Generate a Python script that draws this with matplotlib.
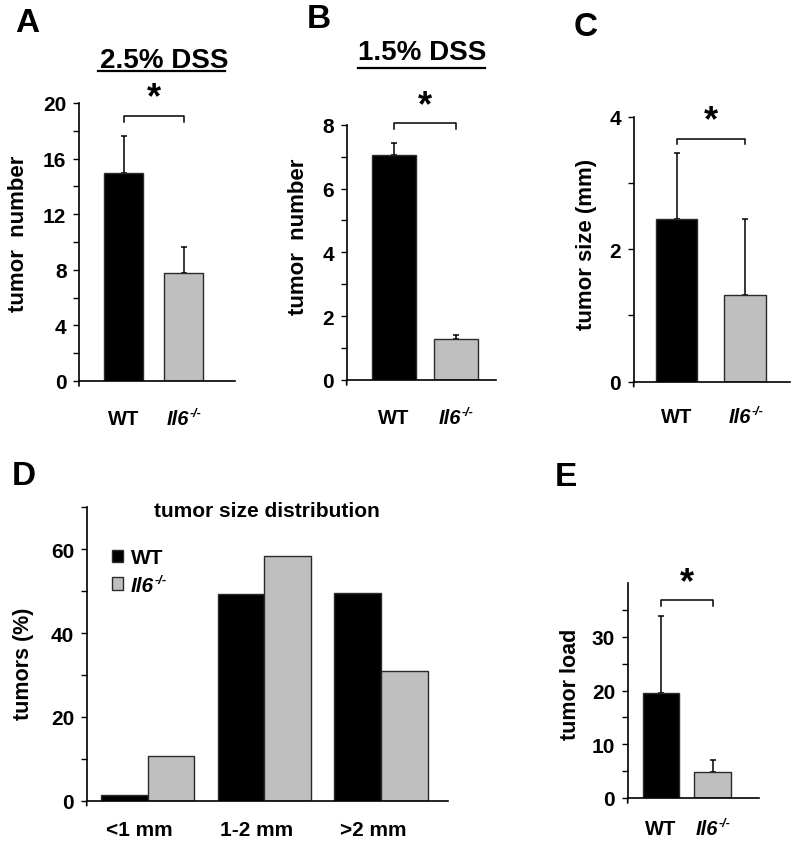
import matplotlib
matplotlib.use("Agg")
import matplotlib.pyplot as plt
import matplotlib.transforms as mtransforms
import numpy as np
from matplotlib.ticker import MultipleLocator

plt.rcParams['font.family'] = ['Liberation Sans', 'DejaVu Sans']
plt.rcParams['font.weight'] = 'bold'

# ---------------- data ----------------
groups = ['WT', 'Il6']
ko_sup = '-/-'

a_values = [15.0, 7.8]
a_err = [2.65, 1.85]

b_values = [7.05, 1.3]
b_err = [0.38, 0.1]

c_values = [2.45, 1.31]
c_err = [1.0, 1.15]

d_categories = ['<1 mm', '1-2 mm', '>2 mm']
d_wt = [1.3, 49.2, 49.5]
d_il6 = [10.7, 58.3, 31.0]

e_values = [19.6, 4.8]
e_err = [14.3, 2.3]

BLACK = '#000000'
GRAY = '#bfbfbf'
EDGE = '#2a2a2a'

W, H = 800, 845
fig = plt.figure(figsize=(W / 100, H / 100), dpi=100)


def add_ax(x0, y0, x1, y1):
    return fig.add_axes([x0 / W, 1 - y1 / H, (x1 - x0) / W, (y1 - y0) / H])


def style(ax, lw=1.2):
    for s in ['top', 'right']:
        ax.spines[s].set_visible(False)
    for s in ['left', 'bottom']:
        ax.spines[s].set_linewidth(lw)
    ax.tick_params(axis='y', which='both', direction='out', length=4,
                   width=1.0, labelsize=15, pad=5)
    ax.tick_params(axis='x', which='both', length=0, labelsize=15)
    # small downward extension of the y axis line below the x axis
    ext = mtransforms.offset_copy(ax.transAxes, fig=fig, x=0, y=-5, units='dots')
    ax.plot([0, 0], [0, 0], transform=ax.transAxes, lw=0)
    ax.add_line(plt.Line2D([0, 0], [0, 0], transform=ax.transAxes,
                           color='black', lw=lw, clip_on=False))
    ax.add_line(plt.Line2D([0, 0], [0, 0], transform=ext,
                           color='black', lw=lw, clip_on=False))
    ax.annotate('', xy=(0, 0), xycoords='axes fraction', xytext=(0, -5),
                textcoords='offset pixels',
                arrowprops=dict(arrowstyle='-', lw=lw, color='black',
                                shrinkA=0, shrinkB=0))


def add_ko_label(ax, text_artist_anchor, size):
    """superscript -/- right after an italic 'Il6' text artist"""
    ax.annotate(ko_sup, xy=(1, 1), xycoords=text_artist_anchor,
                xytext=(0.5, 1.5), textcoords='offset points',
                ha='left', va='top', fontsize=size * 0.62,
                fontweight='bold', style='italic', zorder=20)


def group_labels(ax, x, pad, size=14.5):
    trans = mtransforms.blended_transform_factory(ax.transData, ax.transAxes)
    ax.annotate(groups[0], xy=(x[0], 0), xycoords=trans, xytext=(0, -pad),
                textcoords='offset points', ha='center', va='top',
                fontsize=size, fontweight='bold')
    t = ax.annotate(groups[1], xy=(x[1], 0), xycoords=trans,
                    xytext=(-4, -pad), textcoords='offset points',
                    ha='center', va='top', fontsize=size, fontweight='bold',
                    style='italic')
    add_ko_label(ax, t, size)


def two_bar(ax, values, errs, width, xlim, ylim, major, minor, xpad,
            bracket_y, bracket_drop, ylabel, ylabel_size, ylabel_xy,
            star_size=26):
    x = np.arange(len(values))
    ax.bar(x, values, width=width, color=[BLACK, GRAY], edgecolor=EDGE,
           linewidth=1.0, zorder=2)
    ax.errorbar(x, values, yerr=[np.zeros(len(errs)), errs], fmt='none',
                ecolor='black', elinewidth=1.1, capsize=2.2, capthick=1.1,
                zorder=1)
    ax.set_xlim(*xlim)
    ax.set_ylim(*ylim)
    ax.yaxis.set_major_locator(MultipleLocator(major))
    ax.yaxis.set_minor_locator(MultipleLocator(minor))
    ax.set_xticks([])
    group_labels(ax, x, xpad)
    ax.set_ylabel(ylabel, fontsize=ylabel_size, fontweight='bold')
    ax.yaxis.set_label_coords(*ylabel_xy)
    style(ax)
    # significance bracket
    ax.plot([x[0], x[0], x[1], x[1]],
            [bracket_y - bracket_drop, bracket_y, bracket_y, bracket_y - bracket_drop],
            color='black', lw=1.1, clip_on=False)
    ax.text((x[0] + x[1]) / 2, bracket_y, '*', ha='center', va='bottom',
            fontsize=star_size, fontweight='bold')


# ---------------- Panel A ----------------
axA = add_ax(79, 104, 235, 382)
two_bar(axA, a_values, a_err, 0.65, (-0.742, 1.858), (0, 20), 4, 2, 20.5,
        19.1, 0.45, 'tumor  number', 16, (-0.32, 0.532))

# ---------------- Panel B ----------------
axB = add_ax(346.7, 125.7, 495.7, 381)
two_bar(axB, b_values, b_err, 0.71, (-0.758, 1.645), (0, 8), 2, 1, 20.5,
        8.05, 0.2, 'tumor  number', 16, (-0.253, 0.564))

# ---------------- Panel C ----------------
axC = add_ax(633.7, 117.7, 790, 382.7)
two_bar(axC, c_values, c_err, 0.606, (-0.628, 1.654), (0, 4), 2, 1, 18,
        3.67, 0.08, 'tumor size (mm)', 16, (-0.235, 0.523))

# ---------------- Panel E ----------------
axE = add_ax(627.7, 584, 759, 799)
two_bar(axE, e_values, e_err, 0.71, (-0.644, 1.896), (0, 40), 10, 5, 15,
        36.8, 1.1, 'tumor load', 15.5, (-0.358, 0.533))
axE.set_yticks([0, 10, 20, 30])
axE.set_yticks([5, 15, 25, 35], minor=True)

# ---------------- Panel D ----------------
axD = add_ax(86.7, 508.3, 448.3, 801.7)
xd = np.arange(len(d_categories))
bw = 0.4
axD.bar(xd - bw / 2, d_wt, width=bw, color=BLACK, edgecolor=EDGE,
        linewidth=1.0, label=groups[0])
axD.bar(xd + bw / 2, d_il6, width=bw, color=GRAY, edgecolor=EDGE,
        linewidth=1.0, label=groups[1])
axD.set_xlim(-0.523, 2.577)
axD.set_ylim(0, 70)
axD.yaxis.set_major_locator(MultipleLocator(20))
axD.yaxis.set_minor_locator(MultipleLocator(10))
axD.set_xticks(xd - 0.07)
axD.set_xticklabels(d_categories)
style(axD)
axD.tick_params(axis='x', pad=14, labelsize=15)
axD.set_ylabel('tumors (%)', fontsize=15.5, fontweight='bold')
axD.yaxis.set_label_coords(-0.146, 0.469)
axD.text(0.498, 0.988, 'tumor size distribution', transform=axD.transAxes,
         ha='center', va='center', fontsize=15, fontweight='bold')
leg = axD.legend(loc='upper left', bbox_to_anchor=(0.07, 0.86),
                 frameon=False, fontsize=15, handlelength=0.55,
                 handleheight=0.55, handletextpad=0.35, borderpad=0,
                 labelspacing=0.4, borderaxespad=0)
for t in leg.get_texts():
    t.set_fontweight('bold')
leg.get_texts()[1].set_style('italic')
add_ko_label(axD, leg.get_texts()[1], 15)

# ---------------- Titles and panel letters ----------------
def fy(y):
    return 1 - y / H

fig.text(164.5 / W, fy(61), '2.5% DSS', ha='center', va='center',
         fontsize=20, fontweight='bold')
fig.add_artist(plt.Line2D([98 / W, 225 / W], [fy(72), fy(72)], color='black', lw=1.6))
fig.text(422.5 / W, fy(53), '1.5% DSS', ha='center', va='center',
         fontsize=20, fontweight='bold')
fig.add_artist(plt.Line2D([358 / W, 485 / W], [fy(69.3), fy(69.3)], color='black', lw=1.6))

for letter, x, y in [('A', 27, 24), ('B', 319, 20), ('C', 586, 27),
                     ('D', 24, 477), ('E', 566, 478)]:
    fig.text(x / W, fy(y), letter, ha='center', va='center', fontsize=24,
             fontweight='bold')

fig.savefig('out.png', dpi=100)
